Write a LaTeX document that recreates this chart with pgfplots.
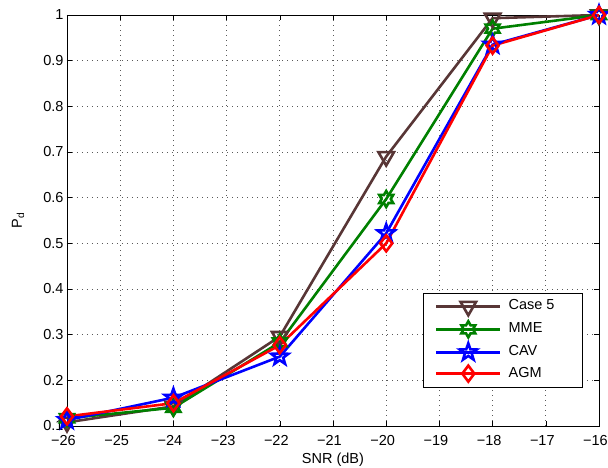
\documentclass[border=0pt]{standalone}
\usepackage{fontspec}
\setmainfont{Liberation Sans}
\usepackage{pgfplots}
\pgfplotsset{compat=1.18}
\usetikzlibrary{calc}

\definecolor{casebrown}{RGB}{88,54,54}
\definecolor{mmegreen}{RGB}{0,128,0}

% MATLAB-like star markers
\pgfdeclareplotmark{pentagram}{%
  \pgfpathmoveto{\pgfpointpolar{90}{\pgfplotmarksize}}%
  \pgfpathlineto{\pgfpointpolar{126}{0.4\pgfplotmarksize}}%
  \pgfpathlineto{\pgfpointpolar{162}{\pgfplotmarksize}}%
  \pgfpathlineto{\pgfpointpolar{198}{0.4\pgfplotmarksize}}%
  \pgfpathlineto{\pgfpointpolar{234}{\pgfplotmarksize}}%
  \pgfpathlineto{\pgfpointpolar{270}{0.4\pgfplotmarksize}}%
  \pgfpathlineto{\pgfpointpolar{306}{\pgfplotmarksize}}%
  \pgfpathlineto{\pgfpointpolar{342}{0.4\pgfplotmarksize}}%
  \pgfpathlineto{\pgfpointpolar{18}{\pgfplotmarksize}}%
  \pgfpathlineto{\pgfpointpolar{54}{0.4\pgfplotmarksize}}%
  \pgfpathclose\pgfusepathqstroke}
\pgfdeclareplotmark{hexagram}{%
  \pgfpathmoveto{\pgfpointpolar{90}{\pgfplotmarksize}}%
  \pgfpathlineto{\pgfpointpolar{120}{0.577\pgfplotmarksize}}%
  \pgfpathlineto{\pgfpointpolar{150}{\pgfplotmarksize}}%
  \pgfpathlineto{\pgfpointpolar{180}{0.577\pgfplotmarksize}}%
  \pgfpathlineto{\pgfpointpolar{210}{\pgfplotmarksize}}%
  \pgfpathlineto{\pgfpointpolar{240}{0.577\pgfplotmarksize}}%
  \pgfpathlineto{\pgfpointpolar{270}{\pgfplotmarksize}}%
  \pgfpathlineto{\pgfpointpolar{300}{0.577\pgfplotmarksize}}%
  \pgfpathlineto{\pgfpointpolar{330}{\pgfplotmarksize}}%
  \pgfpathlineto{\pgfpointpolar{0}{0.577\pgfplotmarksize}}%
  \pgfpathlineto{\pgfpointpolar{30}{\pgfplotmarksize}}%
  \pgfpathlineto{\pgfpointpolar{60}{0.577\pgfplotmarksize}}%
  \pgfpathclose\pgfusepathqstroke}

\begin{document}
\begin{tikzpicture}[font=\fontsize{14.5}{17}\selectfont]
\begin{axis}[
    scale only axis,
    width=532pt,
    height=411pt,
    xmin=-26, xmax=-16,
    ymin=0.1, ymax=1,
    xtick={-26,-25,-24,-23,-22,-21,-20,-19,-18,-17,-16},
    xticklabels={−26,−25,−24,−23,−22,−21,−20,−19,−18,−17,{−16\hspace{5pt}}},
    ytick={0.1,0.2,0.3,0.4,0.5,0.6,0.7,0.8,0.9,1},
    yticklabels={0.1,0.2,0.3,0.4,0.5,0.6,0.7,0.8,0.9,1},
    xticklabel style={yshift=-6pt, xshift=-3.5pt},
    tick align=inside,
    major tick length=5pt,
    tick style={black, line width=0.6pt},
    axis line style={line width=0.9pt},
    grid=major,
    major grid style={black!65, line width=0.7pt, dash pattern=on 0.8pt off 4.2pt},
    xlabel={SNR (dB)},
    ylabel={P\textsubscript{d}},
    xlabel style={at={(axis description cs:0.5,-0.083)}, anchor=center},
    ylabel style={at={(axis description cs:-0.092,0.5)}, anchor=center},
    every axis plot/.append style={line width=2.6pt},
    legend style={at={(1,0)}, anchor=south east, xshift=-16pt, yshift=38pt,
        draw=black, line width=0.8pt, fill=white,
        inner xsep=12pt, inner ysep=6pt, row sep=6pt, column sep=7pt,
        nodes={inner sep=0pt, text height=10pt, text depth=3pt}},
    legend cell align=left,
    legend image code/.code={\draw[mark repeat=2,mark phase=2] plot coordinates {(0pt,0pt) (32pt,0pt) (64pt,0pt)};},
]

\addplot[color=casebrown, mark=triangle, mark size=9pt, mark options={solid, rotate=180}]
    coordinates {(-26,0.108) (-24,0.143) (-22,0.296) (-20,0.690) (-18,0.993) (-16,1.0)};
\addlegendentry{\makebox[62pt][l]{Case 5}}

\addplot[color=mmegreen, mark=hexagram, mark size=8pt, mark options={solid}]
    coordinates {(-26,0.117) (-24,0.140) (-22,0.283) (-20,0.597) (-18,0.970) (-16,1.0)};
\addlegendentry{MME}

\addplot[color=blue, mark=pentagram, mark size=9pt, mark options={solid}]
    coordinates {(-26,0.113) (-24,0.162) (-22,0.252) (-20,0.522) (-18,0.935) (-16,1.0)};
\addlegendentry{CAV}

\addplot[color=red, mark=diamond, mark size=8pt, mark options={solid}]
    coordinates {(-26,0.121) (-24,0.150) (-22,0.277) (-20,0.500) (-18,0.933) (-16,1.0)};
\addlegendentry{AGM}

\end{axis}
\pgfresetboundingbox
\useasboundingbox ($(current axis.south west)+(-67pt,-42pt)$) rectangle ($(current axis.north east)+(9pt,15pt)$);
\end{tikzpicture}
\end{document}
